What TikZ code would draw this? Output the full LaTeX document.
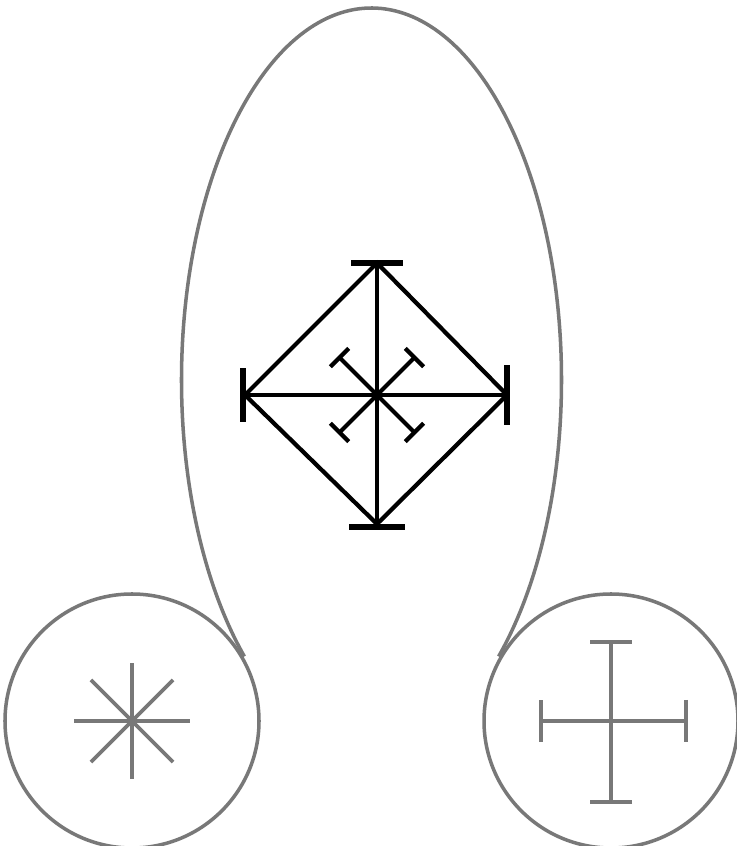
\documentclass[tikz,border=0pt]{standalone}
\usepackage{xcolor}
\usepackage{tikz}
\usetikzlibrary{calc}
\definecolor{penGray}{gray}{0.47}

\begin{document}
\begin{tikzpicture}[
          x=0.03cm, y=0.03cm,
          outline/.style={draw=penGray, line width=3pt},
          glyph/.style={draw=black, line width=3.6pt},
          glyphbar/.style={draw=black, line width=5pt},
          faintglyph/.style={draw=penGray, line width=3.3pt}
        ]
          \useasboundingbox (0,0) rectangle (737,846);
          \coordinate (body) at (371.5,466);
          \coordinate (leftc) at (132,125);
          \coordinate (rightc) at (611,125);
          \coordinate (core) at (377,451);
          \coordinate (top) at (377,583);
          \coordinate (bottom) at (377,322);
          \coordinate (west) at (245,451);
          \coordinate (east) at (507,451);
          \draw[outline] (body) ++(-48:190 and 372)
            arc[start angle=-48, end angle=228, x radius=190, y radius=372];
          \draw[outline] (leftc) circle[radius=127];
          \draw[outline] (rightc) circle[radius=127];
          \draw[glyph] (top) -- (east) -- (bottom) -- (west) -- cycle;
          \draw[glyph] (top) -- (bottom);
          \draw[glyph] (west) -- (east);
          \draw[glyphbar] ($(top)+(-26,0)$) -- ($(top)+(26,0)$);
          \draw[glyphbar] ($(bottom)+(-28,-3)$) -- ($(bottom)+(28,-3)$);
          \draw[glyphbar] ($(west)+(-2,-27)$) -- ($(west)+(-2,27)$);
          \draw[glyphbar] ($(east)+(0,-30)$) -- ($(east)+(0,30)$);
          \foreach \a in {45,135,225,315} {
            \draw[glyph] (core) -- ++(\a:53) coordinate (tip);
            \draw[glyph] (tip) ++(\a+90:13) -- ++(\a-90:26);
          }
          \foreach \a in {0,45,...,315}
            \draw[faintglyph] (leftc) -- ++(\a:58);
          \foreach \a/\len in {0/75,90/79,180/70,270/81} {
            \draw[faintglyph] (rightc) -- ++(\a:\len) coordinate (arm);
            \draw[faintglyph] (arm) ++(\a+90:21) -- ++(\a-90:42);
          }
        \end{tikzpicture}
\end{document}
